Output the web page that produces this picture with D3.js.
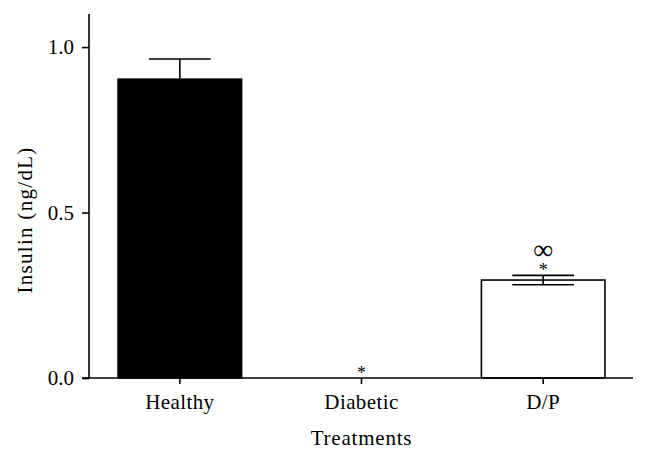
<!DOCTYPE html>
<html><head><meta charset="utf-8">
<script src="https://cdn.jsdelivr.net/npm/d3@7"></script>
<style>body{margin:0;background:#fff}svg{display:block}text{font-family:"Liberation Serif","DejaVu Serif",serif;fill:#000}</style>
</head><body>
<script>
const categories = ["Healthy", "Diabetic", "D/P"];
const values = [0.903, 0.0, 0.296];
const errors = [0.061, 0.0, 0.014];
const errorLower = [false, false, true];
const fills = ["#000000", "#ffffff", "#ffffff"];
const marks = [[], ["*"], ["*", "∞"]];
const yTicks = [0.0, 0.5, 1.0];
const yLabel = "Insulin (ng/dL)";
const xLabel = "Treatments";

const W = 648, H = 459;
const svg = d3.select("body").append("svg").attr("width", W).attr("height", H);
const y = d3.scaleLinear().domain([0, 1.1]).range([378, 14]);
const x = d3.scaleBand().domain(categories).range([89, 634]).paddingInner(0.32).paddingOuter(0.16);

// bars
svg.selectAll("rect.bar").data(categories).enter().append("rect")
  .attr("x", d => x(d)).attr("width", x.bandwidth())
  .attr("y", (d, i) => y(values[i])).attr("height", (d, i) => y(0) - y(values[i]))
  .attr("fill", (d, i) => fills[i]).attr("stroke", "#000").attr("stroke-width", 1.6);

// error bars
const capW = x.bandwidth() / 2;
categories.forEach((c, i) => {
  if (errors[i] <= 0) return;
  const cx = x(c) + x.bandwidth() / 2;
  const top = y(values[i] + errors[i]);
  const bot = errorLower[i] ? y(values[i] - errors[i]) : y(values[i]);
  const g = svg.append("g").attr("stroke", "#000").attr("stroke-width", 1.6);
  g.append("line").attr("x1", cx).attr("x2", cx).attr("y1", top).attr("y2", bot);
  g.append("line").attr("x1", cx - capW / 2).attr("x2", cx + capW / 2).attr("y1", top).attr("y2", top);
  if (errorLower[i]) g.append("line").attr("x1", cx - capW / 2).attr("x2", cx + capW / 2).attr("y1", bot).attr("y2", bot);
});

// significance marks
categories.forEach((c, i) => {
  const cx = x(c) + x.bandwidth() / 2;
  const top = y(values[i] + errors[i]);
  marks[i].forEach(m => {
    const t = svg.append("text").attr("x", cx).attr("text-anchor", "middle");
    if (m === "*") t.attr("y", top + 0.5).attr("font-size", 18).text(m);
    else t.attr("y", top - 16).attr("font-size", 28).text(m);
  });
});

// axes
const yAxis = d3.axisLeft(y).tickValues(yTicks).tickFormat(d3.format(".1f")).tickSize(7).tickPadding(8);
const gy = svg.append("g").attr("transform", "translate(89,0)").call(yAxis);
gy.select(".domain").attr("d", `M0,${y(1.1)}V${y(0)}`);
gy.selectAll("line,path").attr("stroke", "#000").attr("stroke-width", 1.6);
gy.selectAll("text").attr("font-size", 21).attr("font-family", "Liberation Serif, serif");

const xAxis = d3.axisBottom(x).tickSize(6).tickPadding(10);
const gx = svg.append("g").attr("transform", "translate(0,378)").call(xAxis);
gx.select(".domain").attr("d", "M82,0H633");
gx.selectAll("line,path").attr("stroke", "#000").attr("stroke-width", 1.6);
gx.selectAll("text").attr("font-size", 21).attr("letter-spacing", 0.4).attr("font-family", "Liberation Serif, serif");

svg.append("text").attr("x", x(categories[1]) + x.bandwidth() / 2).attr("y", 445)
  .attr("text-anchor", "middle").attr("font-size", 21).attr("letter-spacing", 0.8).text(xLabel);
svg.append("text").attr("transform", "translate(32,220) rotate(-90)")
  .attr("text-anchor", "middle").attr("font-size", 21).attr("letter-spacing", 1.3).text(yLabel);
</script>
</body></html>
